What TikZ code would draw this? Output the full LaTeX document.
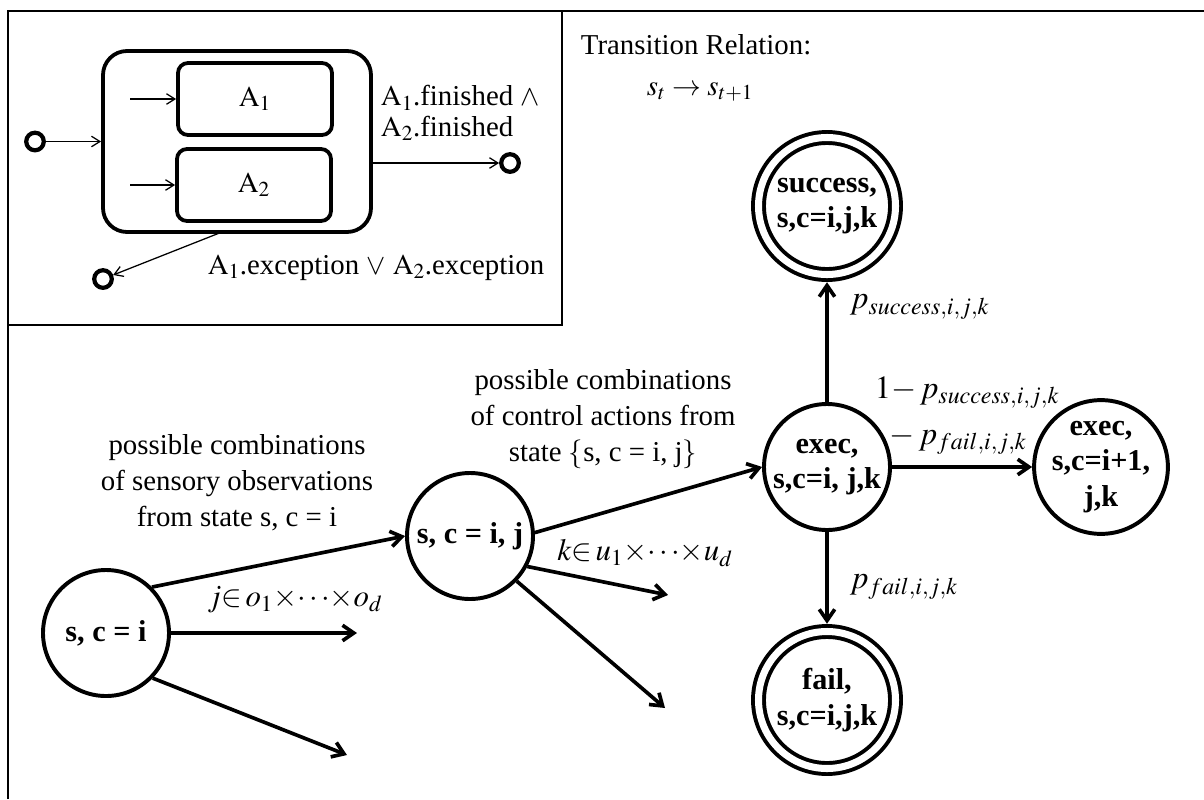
\documentclass[tikz,border=0pt]{standalone}
\usepackage{mathptmx}
\usepackage{fontspec}
\setmainfont{Liberation Serif}
\usetikzlibrary{arrows.meta}

\tikzset{
  state/.style={circle, draw, line width=2.8pt, minimum size=31.5mm, inner sep=0pt,
    align=center, font=\fontsize{21.5}{25}\selectfont\bfseries},
  final/.style={state, double, double distance=5pt, minimum size=34.25mm, outer sep=5.5pt},
  trans/.style={line width=2.6pt, -{Straight Barb[length=8pt,width=11pt]}},
  thinarr/.style={line width=0.9pt, -{Straight Barb[length=6pt,width=7.5pt]}},
  pseudo/.style={circle, draw, line width=3pt, minimum size=4.4mm, inner sep=0pt},
  sub/.style={draw, line width=2.7pt, rounded corners=2.5mm, inner sep=0pt,
    font=\fontsize{20.5}{25}\selectfont},
  txt/.style={font=\fontsize{20.5}{25.6}\selectfont, align=center},
  prob/.style={font=\fontsize{23}{27}\selectfont, anchor=west}
}

\begin{document}
\begin{tikzpicture}[x=0.25mm, y=-0.25mm]
    \useasboundingbox (0,0) rectangle (1204,799);

    % The frame
    \draw[line width=1.7pt] (8,799) -- (8,11) -- (1204,11);
    \draw[line width=1.7pt] (8,325) -- (562,325) -- (562,11);

    % The parallel state
    \node[sub, minimum width=67mm, minimum height=45.25mm, rounded corners=6mm] (par) at (237,141.5) {};
    \node[sub, minimum width=38.5mm, minimum height=18mm] (a1) at (255,99) {$\mathrm{A}_1$};
    \node[sub, minimum width=38.5mm, minimum height=18mm] (a2) at (254,185) {$\mathrm{A}_2$};
    \node[pseudo] (init) at (35,141.5) {};
    \node[pseudo] (fin) at (510,163) {};
    \node[pseudo] (exc) at (103,279) {};
    \coordinate (a1in) at (130,99);
    \coordinate (a2in) at (130,185);
    \coordinate (excout) at (222,232);

    \draw[thinarr] (init) -- (par);
    \draw[thinarr] (a1in) -- (a1);
    \draw[thinarr] (a2in) -- (a2);
    \draw[thinarr] (par.east |- fin) -- (fin);
    \draw[thinarr] (excout) -- (exc);

    \node[txt, anchor=west, align=left, font=\fontsize{20.5}{21.5}\selectfont] (finlbl) at (376,113)
        {$\mathrm{A}_1$.finished $\wedge$\\$\mathrm{A}_2$.finished};
    \node[txt] (exclbl) at (376,268) {$\mathrm{A}_1$.exception $\vee$ $\mathrm{A}_2$.exception};

    % Transition relation
    \node[txt, anchor=west] (trel) at (576,45) {Transition Relation:};
    \node[txt, anchor=west] (tform) at (642,92) {$s_t \rightarrow s_{t+1}$};

    % The states
    \node[state] (sci) at (106,633) {s, c = i};
    \node[state] (scij) at (470,536) {s, c = i, j};
    \node[state] (exec) at (827,467) {exec,\\s,c=i, j,k};
    \node[state] (next) at (1101,467) {exec,\\s,c=i+1,\\j,k};
    \node[final] (succ) at (827,206) {success,\\s,c=i,j,k};
    \node[final] (fail) at (827,700) {fail,\\s,c=i,j,k};
    \coordinate (sciout1) at (357,633);
    \coordinate (sciout2) at (347,755);
    \coordinate (scijout1) at (668,595);
    \coordinate (scijout2) at (665,708);

    % Transitions
    \draw[trans] (sci.45) -- (scij.west);
    \draw[trans] (sci) -- (sciout1);
    \draw[trans] (sci.-44) -- (sciout2);
    \draw[trans] (scij.3) -- (exec.west);
    \draw[trans] (scij.-28) -- (scijout1);
    \draw[trans] (scij.-44) -- (scijout2);
    \draw[trans] (exec) -- (succ);
    \draw[trans] (exec) -- (next);
    \draw[trans] (exec) -- (fail);

    \node[txt] (obslbl) at (237,483) {possible combinations\\of sensory observations\\from state s, c = i};
    \node[txt] (actlbl) at (603,419) {possible combinations\\of control actions from\\state $\{$s, c = i, j$\}$};
    \node[txt, font=\fontsize{22}{26}\selectfont] (jlbl) at (295,600) {$j{\in}\,o_1{\times}{\cdots}{\times}o_d$};
    \node[txt, font=\fontsize{22}{26}\selectfont] (klbl) at (645,553) {$k{\in}\,u_1{\times}{\cdots}{\times}u_d$};

    \node[prob] (psucc) at (845,307) {$p_{success,i,j,k}$};
    \node[prob] (pnext1) at (870,393) {$1{-}\,p_{success,i,j,k}$};
    \node[prob] (pnext2) at (885,440) {${-}\,p_{fail,i,j,k}$};
    \node[prob] (pfail) at (845,587) {$p_{fail,i,j,k}$};
\end{tikzpicture}
\end{document}
